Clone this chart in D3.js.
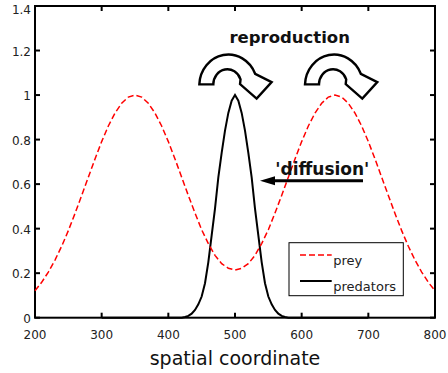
<!DOCTYPE html>
<html>
<head>
<meta charset="utf-8">
<script src="https://cdn.jsdelivr.net/npm/d3@7"></script>
<style>
  html, body { margin: 0; padding: 0; background: #fff; }
  svg { display: block; }
  text { font-family: "DejaVu Sans", sans-serif; }
</style>
</head>
<body>
<svg id="chart" width="448" height="373"></svg>
<script>
// ---- data ----
const xTicks = [200, 300, 400, 500, 600, 700, 800];
const yTicks = [0, 0.2, 0.4, 0.6, 0.8, 1, 1.2, 1.4];
const yTickLabels = ["0", "0.2", "0.4", "0.6", "0.8", "1", "1.2", "1.4"];

const preyX = [200,210,220,230,240,250,260,270,280,290,300,310,320,330,340,350,360,370,380,390,400,410,420,430,440,450,460,470,480,490,500,
               510,520,530,540,550,560,570,580,590,600,610,620,630,640,650,660,670,680,690,700,710,720,730,740,750,760,770,780,790,800];
const preyY = [0.121,0.159,0.205,0.259,0.321,0.391,0.468,0.549,0.631,0.713,0.791,0.861,0.919,0.963,0.991,1.0,0.991,0.963,0.919,0.861,0.791,0.713,0.631,0.549,0.470,0.395,0.333,0.280,0.243,0.222,0.214,
               0.222,0.243,0.280,0.333,0.395,0.470,0.549,0.631,0.713,0.791,0.861,0.919,0.963,0.991,1.0,0.991,0.963,0.919,0.861,0.791,0.713,0.631,0.549,0.468,0.391,0.321,0.259,0.205,0.159,0.121];

const predX = [300,420,425,430,435,440,445,450,455,460,465,470,475,480,485,490,495,500,505,510,515,520,525,530,535,540,545,550,555,560,565,570,575,580,700];
const predY = [0,0,0.003,0.008,0.018,0.035,0.06,0.095,0.155,0.25,0.37,0.49,0.63,0.74,0.84,0.92,0.975,1.0,0.975,0.92,0.84,0.74,0.63,0.49,0.37,0.25,0.155,0.095,0.06,0.035,0.018,0.008,0.003,0,0];

const seriesNames = ["prey", "predators"];
const xLabel = "spatial coordinate";
const reproLabel = "reproduction";
const diffLabel = "'diffusion'";
const curvedArrowX = [446.5, 605];   // data-x of left tail of the curved arrows
const curvedArrowY = 1.048;
const diffArrow = {x0: 692, x1: 537.5, y: 0.615};
const reproPos = {x: 582, y: 1.235};
const diffTextPos = {x: 631, y: 0.643};

// ---- layout ----
const svg = d3.select("#chart");
const L = 35, R = 435, T = 6, B = 317.7;
const x = d3.scaleLinear().domain([200, 800]).range([L, R]);
const y = d3.scaleLinear().domain([0, 1.4]).range([B, T]);

// frame
svg.append("rect").attr("x", L).attr("y", T).attr("width", R - L).attr("height", B - T)
  .attr("fill", "#fff").attr("stroke", "#000").attr("stroke-width", 2);

// ticks (inward on all sides)
const tk = 5;
const g = svg.append("g").attr("stroke", "#000").attr("stroke-width", 2);
xTicks.forEach(t => {
  g.append("line").attr("x1", x(t)).attr("x2", x(t)).attr("y1", B).attr("y2", B - tk);
  g.append("line").attr("x1", x(t)).attr("x2", x(t)).attr("y1", T).attr("y2", T + tk);
});
yTicks.forEach(t => {
  g.append("line").attr("x1", L).attr("x2", L + tk).attr("y1", y(t)).attr("y2", y(t));
  g.append("line").attr("x1", R).attr("x2", R - tk).attr("y1", y(t)).attr("y2", y(t));
});

// tick labels
svg.append("g").selectAll("text").data(xTicks).join("text")
  .attr("x", d => x(d)).attr("y", B + 21.6)
  .attr("text-anchor", "middle").attr("font-size", 12).attr("fill", "#222")
  .text(d => d);
svg.append("g").selectAll("text").data(yTicks).join("text")
  .attr("x", L - 4).attr("y", d => Math.max(y(d) + 5.3, 13.5))
  .attr("text-anchor", "end").attr("font-size", 12).attr("fill", "#222")
  .text((d, i) => yTickLabels[i]);

// axis label
svg.append("text").attr("x", (L + R) / 2).attr("y", 365)
  .attr("text-anchor", "middle").attr("font-size", 19).attr("fill", "#111")
  .text(xLabel);

// curves
const line = d3.line().x(d => x(d[0])).y(d => y(d[1]));
const prey = preyX.map((v, i) => [v, preyY[i]]);
const pred = predX.map((v, i) => [v, predY[i]]);

svg.append("path").datum(pred).attr("d", line)
  .attr("fill", "none").attr("stroke", "#000").attr("stroke-width", 2);
svg.append("path").datum(prey).attr("d", line)
  .attr("fill", "none").attr("stroke", "#ff0000").attr("stroke-width", 1.5)
  .attr("stroke-dasharray", "6,3");

// curved "reproduction" arrows
const arrowPath = "M0,0 A29,31 0 0 1 55.8,-10.6 L72.3,-2.3 L57.3,14.3 L40.7,-0.3 L41.2,-5.1 A14,15 0 0 0 14,0 Z";
curvedArrowX.forEach(ax => {
  svg.append("path").attr("d", arrowPath)
    .attr("transform", `translate(${x(ax)},${y(curvedArrowY)})`)
    .attr("fill", "#fff").attr("stroke", "#000").attr("stroke-width", 2.4)
    .attr("stroke-linejoin", "miter");
});

svg.append("text").attr("x", x(reproPos.x)).attr("y", y(reproPos.y))
  .attr("text-anchor", "middle").attr("font-size", 16.5).attr("font-weight", "bold")
  .attr("fill", "#111").text(reproLabel);

// diffusion arrow
const dy = y(diffArrow.y);
svg.append("line").attr("x1", x(diffArrow.x0)).attr("x2", x(diffArrow.x1) + 12)
  .attr("y1", dy).attr("y2", dy).attr("stroke", "#000").attr("stroke-width", 3);
svg.append("path")
  .attr("d", `M${x(diffArrow.x1)},${dy} L${x(diffArrow.x1) + 15},${dy - 4.5} L${x(diffArrow.x1) + 15},${dy + 4.5} Z`)
  .attr("fill", "#000");
svg.append("text").attr("x", x(diffTextPos.x)).attr("y", y(diffTextPos.y))
  .attr("text-anchor", "middle").attr("font-size", 17).attr("font-weight", "bold")
  .attr("fill", "#111").text(diffLabel);

// legend
const lg = svg.append("g");
lg.append("rect").attr("x", 289).attr("y", 242.7).attr("width", 114.3).attr("height", 53)
  .attr("fill", "#fff").attr("stroke", "#000").attr("stroke-width", 1);
const legYs = [255, 281];
const legStyles = [{c: "#ff0000", w: 1.5, dash: "6,3"}, {c: "#000", w: 2, dash: null}];
seriesNames.forEach((nm, i) => {
  lg.append("line").attr("x1", 300).attr("x2", 331.7).attr("y1", legYs[i]).attr("y2", legYs[i])
    .attr("stroke", legStyles[i].c).attr("stroke-width", legStyles[i].w)
    .attr("stroke-dasharray", legStyles[i].dash);
  lg.append("text").attr("x", 333.3).attr("y", legYs[i] + 9.5)
    .attr("font-size", 13).attr("fill", "#222").text(nm);
});
</script>
</body>
</html>
